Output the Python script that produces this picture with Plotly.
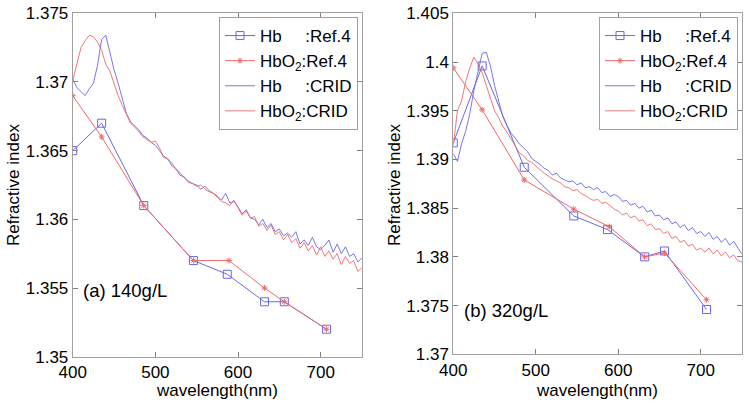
import plotly.graph_objects as go

# ---------------- data ----------------
wl_crid = list(range(400, 755, 5))

hb_crid_a = [1.3702, 1.3696, 1.3693, 1.3690, 1.3695, 1.3699, 1.3712, 1.3731, 1.3734, 1.3721,
             1.3709, 1.3699, 1.3688, 1.3677, 1.3671, 1.3668, 1.3665, 1.3661, 1.3659, 1.3656,
             1.3654, 1.3650, 1.3646, 1.3644, 1.3639, 1.3637, 1.3632, 1.3631, 1.3627, 1.3626,
             1.3625, 1.3622, 1.3624, 1.3621, 1.3619, 1.3617, 1.3614, 1.3619, 1.3612, 1.3613,
             1.3609, 1.3604, 1.3607, 1.3601, 1.3600, 1.3596, 1.3600, 1.3594, 1.3597, 1.3591,
             1.3593, 1.3588, 1.3590, 1.3587, 1.3591, 1.3582, 1.3585, 1.3581, 1.3587, 1.3580,
             1.3578, 1.3581, 1.3585, 1.3576, 1.3582, 1.3575, 1.3580, 1.3573, 1.3575, 1.3569,
             1.3572]
hbo2_crid_a = [1.3701, 1.3712, 1.3725, 1.3730, 1.3734, 1.3733, 1.3729, 1.3723, 1.3713, 1.3708,
               1.3699, 1.3690, 1.3683, 1.3677, 1.3670, 1.3667, 1.3664, 1.3660, 1.3658, 1.3656,
               1.3657, 1.3652, 1.3645, 1.3644, 1.3641, 1.3636, 1.3634, 1.3630, 1.3628, 1.3626,
               1.3624, 1.3625, 1.3622, 1.3620, 1.3619, 1.3616, 1.3613, 1.3612, 1.3610, 1.3614,
               1.3609, 1.3603, 1.3606, 1.3601, 1.3602, 1.3595, 1.3597, 1.3592, 1.3596, 1.3589,
               1.3591, 1.3585, 1.3589, 1.3583, 1.3586, 1.3579, 1.3583, 1.3577, 1.3581, 1.3574,
               1.3580, 1.3573, 1.3577, 1.3571, 1.3575, 1.3567, 1.3573, 1.3568, 1.3570, 1.3562,
               1.3565]

hb_crid_b = [1.3906, 1.3898, 1.3916, 1.3929, 1.3947, 1.3971, 1.3990, 1.4009, 1.4010, 1.3996,
             1.3976, 1.3959, 1.3944, 1.3935, 1.3927, 1.3922, 1.3916, 1.3912, 1.3908, 1.3901,
             1.3898, 1.3895, 1.3891, 1.3889, 1.3884, 1.3886, 1.3881, 1.3879, 1.3877, 1.3878,
             1.3874, 1.3876, 1.3871, 1.3872, 1.3869, 1.3871, 1.3866, 1.3867, 1.3862, 1.3864,
             1.3862, 1.3857, 1.3858, 1.3853, 1.3855, 1.3850, 1.3852, 1.3846, 1.3848, 1.3842,
             1.3843, 1.3838, 1.3840, 1.3834, 1.3836, 1.3830, 1.3833, 1.3827, 1.3830, 1.3824,
             1.3826, 1.3821, 1.3825, 1.3818, 1.3821, 1.3815, 1.3819, 1.3812, 1.3816, 1.3809,
             1.3803]
hbo2_crid_b = [1.3914, 1.3950, 1.3960, 1.3980, 1.3994, 1.4005, 1.3998, 1.3989, 1.3976, 1.3962,
               1.3950, 1.3943, 1.3934, 1.3928, 1.3921, 1.3915, 1.3907, 1.3904, 1.3899, 1.3897,
               1.3893, 1.3890, 1.3886, 1.3883, 1.3880, 1.3878, 1.3876, 1.3872, 1.3871, 1.3868,
               1.3869, 1.3865, 1.3863, 1.3860, 1.3858, 1.3859, 1.3855, 1.3856, 1.3852, 1.3849,
               1.3847, 1.3843, 1.3845, 1.3840, 1.3842, 1.3837, 1.3838, 1.3832, 1.3834, 1.3828,
               1.3829, 1.3824, 1.3826, 1.3819, 1.3821, 1.3815, 1.3817, 1.3811, 1.3813, 1.3807,
               1.3809, 1.3805, 1.3809, 1.3803, 1.3807, 1.3801, 1.3805, 1.3799, 1.3802, 1.3796,
               1.3795]

wl_ref_hb = [400, 435, 486, 546, 587, 632, 656, 707]
wl_ref_hbo2 = [400, 435, 486, 546, 589, 632, 656, 707]
hb_ref_a = [1.365, 1.367, 1.361, 1.357, 1.356, 1.354, 1.354, 1.352]
hbo2_ref_a = [1.369, 1.366, 1.361, 1.357, 1.357, 1.355, 1.354, 1.352]
hb_ref_b = [1.3917, 1.3996, 1.3892, 1.3842, 1.3828, 1.3800, 1.3806, 1.3746]
hbo2_ref_b = [1.3994, 1.3951, 1.3879, 1.3849, 1.3831, 1.3800, 1.3804, 1.3756]

x_ticks = [400, 500, 600, 700]
y_ticks_a = [1.35, 1.355, 1.36, 1.365, 1.37, 1.375]
y_ticks_b = [1.37, 1.375, 1.38, 1.385, 1.39, 1.395, 1.4, 1.405]
labels = ["Hb&nbsp;&nbsp;&nbsp;&nbsp;&nbsp;:Ref.4", "HbO<sub>2</sub>:Ref.4",
          "Hb&nbsp;&nbsp;&nbsp;&nbsp;&nbsp;:CRID", "HbO<sub>2</sub>:CRID"]
x_title = "wavelength(nm)"
y_title = "Refractive index"

# ---------------- styling ----------------
BLUE = "#6868e6"
RED = "#ec6a6a"
FONT = "Arial, Liberation Sans, sans-serif"

fig = go.Figure()

panels = [
    ("x", "y", "legend", hb_ref_a, hbo2_ref_a, hb_crid_a, hbo2_crid_a),
    ("x2", "y2", "legend2", hb_ref_b, hbo2_ref_b, hb_crid_b, hbo2_crid_b),
]
for xa, ya, lg, hr, hor, hc, hoc in panels:
    fig.add_trace(go.Scatter(x=wl_ref_hb, y=hr, mode="lines+markers", name=labels[0],
                             line=dict(color=BLUE, width=1),
                             marker=dict(symbol="square-open", size=8, color=BLUE, line=dict(width=1)),
                             xaxis=xa, yaxis=ya, legend=lg))
    fig.add_trace(go.Scatter(x=wl_ref_hbo2, y=hor, mode="lines+markers", name=labels[1],
                             line=dict(color=RED, width=1),
                             marker=dict(symbol="asterisk-open", size=5, color=RED, line=dict(width=1, color=RED)),
                             xaxis=xa, yaxis=ya, legend=lg))
    fig.add_trace(go.Scatter(x=wl_crid, y=hc, mode="lines", name=labels[2],
                             line=dict(color=BLUE, width=0.9),
                             xaxis=xa, yaxis=ya, legend=lg))
    fig.add_trace(go.Scatter(x=wl_crid, y=hoc, mode="lines", name=labels[3],
                             line=dict(color=RED, width=0.9),
                             xaxis=xa, yaxis=ya, legend=lg))

W, H = 749, 403


def fx(px):
    return px / W


def fy(py):
    return (H - py) / H


axis_common = dict(showgrid=False, zeroline=False, showline=True, linecolor="#a0a0a0", linewidth=1,
                   mirror="ticks", ticks="inside", ticklen=5, tickcolor="#808080", automargin=False,
                   ticklabeloverflow="allow",
                   tickfont=dict(size=17, color="black", family=FONT))

title_font = dict(size=17, family=FONT, color="black")
annotations = [
    dict(text="(a) 140g/L", xref="paper", yref="paper", x=fx(81), y=fy(290),
         xanchor="left", yanchor="middle", showarrow=False, font=dict(size=18.5, family=FONT)),
    dict(text="(b) 320g/L", xref="paper", yref="paper", x=fx(462), y=fy(310),
         xanchor="left", yanchor="middle", showarrow=False, font=dict(size=18.5, family=FONT)),
    dict(text=x_title, xref="paper", yref="paper", x=fx(217), y=fy(390),
         xanchor="center", yanchor="middle", showarrow=False, font=title_font),
    dict(text=x_title, xref="paper", yref="paper", x=fx(597), y=fy(390),
         xanchor="center", yanchor="middle", showarrow=False, font=title_font),
    dict(text=y_title, xref="paper", yref="paper", x=fx(13), y=fy(185),
         xanchor="center", yanchor="middle", textangle=-90, showarrow=False, font=title_font),
    dict(text=y_title, xref="paper", yref="paper", x=fx(394), y=fy(185),
         xanchor="center", yanchor="middle", textangle=-90, showarrow=False, font=title_font),
]

fig.update_layout(
    width=W, height=H,
    margin=dict(l=0, r=0, t=0, b=0, autoexpand=False),
    paper_bgcolor="white", plot_bgcolor="white",
    font=dict(family=FONT, size=17, color="black"),
    xaxis=dict(domain=[fx(72.7), fx(362)], range=[400, 750], tickvals=x_ticks, anchor="y", **axis_common),
    yaxis=dict(domain=[fy(356.7), fy(13.3)], range=[1.35, 1.375], tickvals=y_ticks_a,
               ticktext=[f"{v:g}" for v in y_ticks_a], anchor="x", **axis_common),
    xaxis2=dict(domain=[fx(453.3), fx(742)], range=[400, 750], tickvals=x_ticks, anchor="y2", **axis_common),
    yaxis2=dict(domain=[fy(354.3), fy(13.3)], range=[1.37, 1.405], tickvals=y_ticks_b,
                ticktext=[f"{v:g}" for v in y_ticks_b], anchor="x2", **axis_common),
    legend=dict(x=fx(358), y=fy(17), xanchor="right", yanchor="top",
                bgcolor="white", bordercolor="#a0a0a0", borderwidth=1,
                font=dict(size=17, family=FONT), itemwidth=30, tracegroupgap=0),
    legend2=dict(x=fx(738), y=fy(17), xanchor="right", yanchor="top",
                 bgcolor="white", bordercolor="#a0a0a0", borderwidth=1,
                 font=dict(size=17, family=FONT), itemwidth=30, tracegroupgap=0),
    annotations=annotations,
)

fig.write_html("out.html", config={"displayModeBar": False},
               post_script="document.body.style.margin='0';")
